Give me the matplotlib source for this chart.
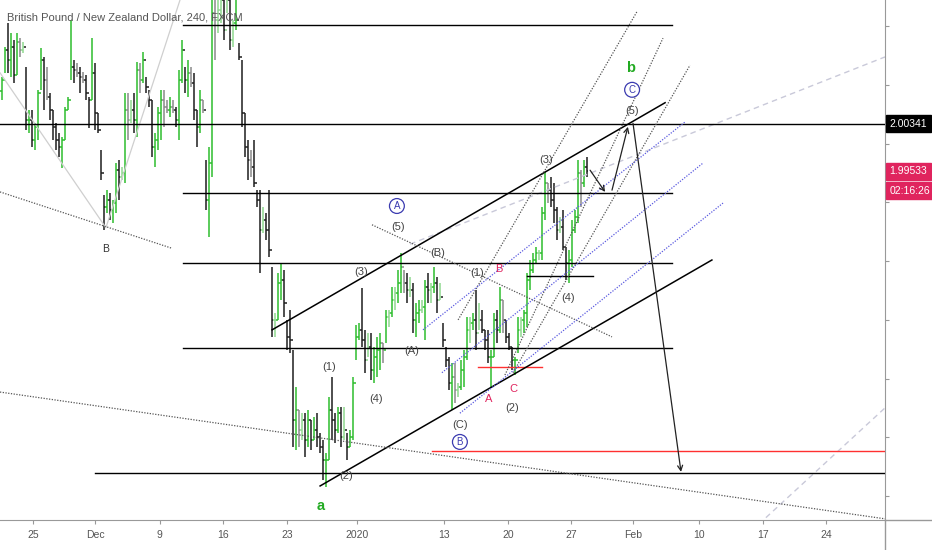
import matplotlib
matplotlib.use('Agg')
import matplotlib.pyplot as plt
from matplotlib.collections import LineCollection
from matplotlib.lines import Line2D

# GBP/NZD 4h bars (high, low, close)
high = [2.0114, 2.0165, 2.0206, 2.0189, 2.0177, 2.0189, 2.0180, 2.0174, 2.0131, 2.0058,
        2.0058, 2.0036, 2.0092, 2.0163, 2.0148, 2.0131, 2.0087, 2.0058, 2.0036, 2.0019,
        2.0012, 2.0063, 2.0080, 2.0211, 2.0143, 2.0138, 2.0131, 2.0123, 2.0117, 2.0080,
        2.0180, 2.0138, 2.0053, 1.9989, 1.9912, 1.9921, 1.9916, 1.9904, 1.9967, 1.9972,
        1.9960, 2.0087, 2.0087, 2.0075, 2.0087, 2.0140, 2.0138, 2.0157, 2.0114, 2.0092,
        2.0075, 2.0019, 2.0063, 2.0092, 2.0092, 2.0075, 2.0080, 2.0075, 2.0063, 2.0126,
        2.0177, 2.0131, 2.0143, 2.0131, 2.0121, 2.0058, 2.0092, 2.0075, 1.9972, 1.9994,
        2.0279, 2.0262, 2.0262, 2.0262, 2.0262, 2.0262, 2.0254, 2.0211, 2.0245, 2.0172,
        2.0143, 2.0053, 2.0006, 1.9989, 2.0006, 1.9921, 1.9921, 1.9892, 1.9882, 1.9921,
        1.9790, 1.9712, 1.9780, 1.9797, 1.9785, 1.9700, 1.9717, 1.9649, 1.9586, 1.9547,
        1.9542, 1.9542, 1.9547, 1.9530, 1.9535, 1.9542, 1.9507, 1.9495, 1.9473, 1.9569,
        1.9603, 1.9542, 1.9552, 1.9552, 1.9552, 1.9507, 1.9512, 1.9603, 1.9691, 1.9695,
        1.9754, 1.9683, 1.9678, 1.9678, 1.9654, 1.9671, 1.9678, 1.9661, 1.9717, 1.9717,
        1.9756, 1.9756, 1.9785, 1.9814, 1.9785, 1.9780, 1.9773, 1.9763, 1.9729, 1.9734,
        1.9734, 1.9768, 1.9780, 1.9763, 1.9790, 1.9773, 1.9763, 1.9695, 1.9654, 1.9637,
        1.9627, 1.9627, 1.9593, 1.9632, 1.9649, 1.9705, 1.9705, 1.9712, 1.9751, 1.9729,
        1.9717, 1.9683, 1.9683, 1.9649, 1.9712, 1.9717, 1.9756, 1.9734, 1.9700, 1.9678,
        1.9654, 1.9637, 1.9705, 1.9705, 1.9717, 1.9780, 1.9802, 1.9814, 1.9824, 1.9819,
        1.9892, 1.9952, 1.9933, 1.9943, 1.9933, 1.9892, 1.9875, 1.9887, 1.9824, 1.9819,
        1.9870, 1.9887, 1.9972, 1.9955, 1.9972, 1.9977]
low = [2.0075, 2.0121, 2.0121, 2.0114, 2.0104, 2.0117, 2.0148, 2.0155, 2.0024, 2.0019,
       1.9994, 1.9989, 2.0006, 2.0092, 2.0058, 2.0075, 2.0041, 2.0006, 1.9989, 1.9977,
       1.9958, 2.0006, 2.0058, 2.0109, 2.0104, 2.0114, 2.0087, 2.0104, 2.0075, 2.0027,
       2.0075, 2.0024, 2.0019, 1.9938, 1.9853, 1.9882, 1.9870, 1.9865, 1.9882, 1.9904,
       1.9938, 1.9933, 2.0006, 2.0036, 2.0019, 2.0012, 2.0087, 2.0104, 2.0087, 2.0063,
       1.9977, 1.9960, 1.9989, 2.0006, 2.0029, 2.0053, 2.0046, 2.0053, 2.0029, 2.0006,
       2.0104, 2.0087, 2.0080, 2.0097, 2.0041, 1.9994, 2.0019, 2.0053, 1.9887, 1.9841,
       1.9943, 2.0143, 2.0189, 2.0206, 2.0177, 2.0223, 2.0160, 2.0165, 2.0194, 2.0143,
       2.0029, 1.9977, 1.9938, 1.9943, 1.9926, 1.9892, 1.9780, 1.9848, 1.9836, 1.9807,
       1.9671, 1.9671, 1.9700, 1.9734, 1.9705, 1.9649, 1.9644, 1.9483, 1.9478, 1.9483,
       1.9495, 1.9466, 1.9483, 1.9478, 1.9495, 1.9483, 1.9473, 1.9427, 1.9415, 1.9461,
       1.9495, 1.9490, 1.9507, 1.9483, 1.9495, 1.9461, 1.9483, 1.9495, 1.9632, 1.9666,
       1.9654, 1.9610, 1.9637, 1.9598, 1.9593, 1.9603, 1.9615, 1.9627, 1.9661, 1.9688,
       1.9705, 1.9717, 1.9729, 1.9746, 1.9746, 1.9729, 1.9739, 1.9678, 1.9671, 1.9695,
       1.9712, 1.9666, 1.9729, 1.9729, 1.9746, 1.9712, 1.9734, 1.9654, 1.9620, 1.9581,
       1.9547, 1.9559, 1.9569, 1.9581, 1.9586, 1.9632, 1.9661, 1.9683, 1.9649, 1.9683,
       1.9678, 1.9649, 1.9627, 1.9584, 1.9637, 1.9661, 1.9678, 1.9678, 1.9661, 1.9649,
       1.9615, 1.9606, 1.9644, 1.9671, 1.9678, 1.9688, 1.9751, 1.9780, 1.9797, 1.9802,
       1.9802, 1.9870, 1.9899, 1.9892, 1.9865, 1.9836, 1.9848, 1.9819, 1.9768, 1.9763,
       1.9790, 1.9848, 1.9865, 1.9892, 1.9926, 1.9943]
close = [2.0109, 2.0160, 2.0143, 2.0165, 2.0117, 2.0174, 2.0160, 2.0165, 2.0041, 2.0041,
         2.0006, 2.0029, 2.0087, 2.0143, 2.0109, 2.0080, 2.0058, 2.0029, 2.0006, 1.9994,
         2.0006, 2.0058, 2.0075, 2.0131, 2.0126, 2.0121, 2.0114, 2.0109, 2.0087, 2.0075,
         2.0121, 2.0053, 2.0024, 1.9950, 1.9892, 1.9904, 1.9887, 1.9899, 1.9955, 1.9943,
         1.9950, 2.0058, 2.0041, 2.0058, 2.0041, 2.0126, 2.0109, 2.0143, 2.0097, 2.0075,
         1.9994, 2.0006, 2.0053, 2.0075, 2.0063, 2.0058, 2.0063, 2.0058, 2.0041, 2.0109,
         2.0160, 2.0109, 2.0121, 2.0104, 2.0058, 2.0029, 2.0075, 2.0058, 1.9904, 1.9967,
         2.0223, 2.0211, 2.0228, 2.0245, 2.0194, 2.0245, 2.0177, 2.0206, 2.0211, 2.0148,
         2.0053, 1.9994, 1.9972, 1.9960, 1.9933, 1.9904, 1.9853, 1.9870, 1.9853, 1.9819,
         1.9700, 1.9700, 1.9763, 1.9768, 1.9729, 1.9671, 1.9666, 1.9530, 1.9547, 1.9512,
         1.9530, 1.9495, 1.9530, 1.9495, 1.9512, 1.9500, 1.9483, 1.9461, 1.9461, 1.9547,
         1.9530, 1.9512, 1.9542, 1.9500, 1.9512, 1.9483, 1.9500, 1.9593, 1.9671, 1.9683,
         1.9666, 1.9632, 1.9654, 1.9615, 1.9637, 1.9649, 1.9661, 1.9649, 1.9705, 1.9712,
         1.9734, 1.9746, 1.9763, 1.9790, 1.9763, 1.9751, 1.9751, 1.9700, 1.9712, 1.9717,
         1.9722, 1.9756, 1.9751, 1.9756, 1.9763, 1.9734, 1.9739, 1.9666, 1.9632, 1.9593,
         1.9603, 1.9581, 1.9586, 1.9615, 1.9637, 1.9683, 1.9695, 1.9700, 1.9678, 1.9700,
         1.9683, 1.9666, 1.9637, 1.9637, 1.9700, 1.9683, 1.9734, 1.9700, 1.9671, 1.9654,
         1.9632, 1.9632, 1.9683, 1.9700, 1.9712, 1.9768, 1.9785, 1.9802, 1.9814, 1.9814,
         1.9882, 1.9933, 1.9921, 1.9904, 1.9887, 1.9853, 1.9858, 1.9824, 1.9797, 1.9802,
         1.9853, 1.9875, 1.9950, 1.9933, 1.9960, 1.99533]
first_open = 2.0090

date_pos = [10.5, 31.2, 52.8, 73.8, 95.2, 118.5, 147.5, 168.8, 189.8, 210.5, 232.5, 253.8, 274.8]
date_lbl = ['25', 'Dec', '9', '16', '23', '2020', '13', '20', '27', 'Feb', '10', '17', '24']
price_ticks = [2.02, 2.01, 2.00, 1.99, 1.98, 1.97, 1.96, 1.95, 1.94]

last_price = 1.99533
marked_level = 2.00341
countdown = '02:16:26'

# horizontal levels drawn on the chart: (price, from bar, to bar)
levels = [(2.0202, 60.5, 223.5), (1.9916, 60.5, 223.5), (1.9797, 60.5, 223.5),
          (1.9652, 60.5, 223.5), (1.9439, 31.2, 294.5), (1.9775, 175.2, 197.2)]
red_levels = [(1.9477, 143.5, 294.5), (1.9620, 158.8, 180.2)]

GREEN, LGREEN, DARK, GRAY = '#2dbd2d', '#8fd98f', '#1e1e1e', '#8a8a8a'
LABEL = '#555555'
BLUE = '#3b3bb0'
RED = '#e0245e'

fam = ['Liberation Sans', 'DejaVu Sans']

fig = plt.figure(figsize=(9.32, 5.5), dpi=100)
ax = fig.add_axes([0, 30 / 550, 885 / 932, 520 / 550])
ax.set_xlim(-0.5, 294.5)
ax.set_ylim(1.9359, 2.0245)

# OHLC bars
opens = [first_open] + close[:-1]
segs, cols = [], []
for i in range(len(high)):
    up = close[i] >= opens[i]
    inside = i > 0 and high[i] <= high[i - 1] and low[i] >= low[i - 1]
    if up:
        c = LGREEN if inside else GREEN
    else:
        c = GRAY if inside else DARK
    segs.append([(i, low[i]), (i, high[i])])
    segs.append([(i - 0.45, opens[i]), (i, opens[i])])
    segs.append([(i, close[i]), (i + 0.45, close[i])])
    cols += [c, c, c]
ax.add_collection(LineCollection(segs, colors=cols, linewidths=1.1, zorder=2))

# horizontal levels
ax.axhline(marked_level, color='black', lw=1.0, zorder=3)
for p, a, b in levels:
    ax.plot([a, b], [p, p], color='black', lw=1.0, zorder=3)
for p, a, b in red_levels:
    ax.plot([a, b], [p, p], color='#ff3030', lw=1.0, zorder=3)

# channel
ax.plot([90.2, 221.2], [1.9683, 2.0070], color='black', lw=1.1, zorder=3)
ax.plot([106.2, 236.8], [1.9417, 1.9802], color='black', lw=1.1, zorder=3)

# dotted trend lines
dot = dict(color='#555555', lw=0.9, ls=(0, (1, 1.2)), zorder=3)
ax.plot([-0.5, 56.8], [1.9918, 1.9822], **dot)
ax.plot([-0.5, 294.5], [1.9577, 1.9361], **dot)
ax.plot([123.5, 203.5], [1.9862, 1.9671], **dot)
ax.plot([152.2, 211.8], [1.9700, 2.0225], **dot)
ax.plot([167.8, 220.5], [1.9606, 2.0180], **dot)
ax.plot([170.5, 229.5], [1.9610, 2.0134], **dot)

# blue parallel lines
bdot = dict(color='#5a5ae0', lw=0.9, ls=(0, (1, 1.2)), zorder=3)
ax.plot([140.5, 227.8], [1.9683, 2.0037], **bdot)
ax.plot([146.8, 233.8], [1.9610, 1.9967], **bdot)
ax.plot([152.8, 240.5], [1.9541, 1.9899], **bdot)

# light dashed and thin lines
ax.plot([136.2, 294.5], [1.9829, 2.0148], color='#c9c9d9', lw=1.0, ls=(0, (4, 3)), zorder=2.5)
ax.plot([254.8, 294.5], [1.9363, 1.9550], color='#c9c9d9', lw=1.0, ls=(0, (4, 3)), zorder=2.5)
ax.plot([-0.5, 34.8, 59.5], [2.0121, 1.9857, 2.0245], color='#cfcfcf', lw=0.9, zorder=2.5)

# arrows
arr = dict(arrowstyle='->', color='#222222', lw=0.9, shrinkA=0, shrinkB=0, mutation_scale=9)
ax.annotate('', xy=(201.2, 1.9918), xytext=(196.2, 1.9955), arrowprops=arr, zorder=4)
ax.annotate('', xy=(208.8, 2.0029), xytext=(203.5, 1.9921), arrowprops=arr, zorder=4)
ax.annotate('', xy=(226.5, 1.9441), xytext=(210.5, 2.0035), arrowprops=arr, zorder=4)

# wave labels
gray_labels = [('(5)', 210.2, 2.0056), ('(3)', 181.5, 1.9972), ('(5)', 132.2, 1.9858),
               ('(3)', 119.8, 1.9782), ('(B)', 145.5, 1.9814), ('(1)', 158.5, 1.9780),
               ('(4)', 188.8, 1.9737), ('(1)', 109.2, 1.9620), ('(4)', 124.8, 1.9565),
               ('(A)', 136.8, 1.9647), ('(C)', 152.8, 1.9521), ('(2)', 170.2, 1.9550),
               ('(2)', 114.8, 1.9434)]
for t, x, y in gray_labels:
    ax.text(x, y, t, color='#444444', fontsize=8, ha='center', va='center', family=fam, zorder=5)
ax.text(34.8, 1.9821, 'B', color='#333333', fontsize=7.5, ha='center', va='center', family=fam, zorder=5)
for t, x, y in [('B', 165.8, 1.9787), ('A', 162.5, 1.9565), ('C', 170.5, 1.9582)]:
    ax.text(x, y, t, color=RED, fontsize=8, ha='center', va='center', family=fam, zorder=5)
for t, x, y in [('b', 209.8, 2.0129), ('a', 106.5, 1.9383)]:
    ax.text(x, y, t, color='#22aa22', fontsize=10.5, fontweight='bold', ha='center', va='center',
            family=fam, zorder=5)
for t, x, y in [('C', 210.2, 2.0092), ('A', 131.8, 1.9894), ('B', 152.8, 1.9492)]:
    ax.text(x, y, t, color=BLUE, fontsize=7, ha='center', va='center', family=fam, zorder=5,
            bbox=dict(boxstyle='circle,pad=0.25', fc='white', ec=BLUE, lw=0.9))

# axes styling
for s in ['top', 'left']:
    ax.spines[s].set_visible(False)
ax.spines['right'].set_color('#999999')
ax.spines['bottom'].set_color('#999999')
ax.yaxis.tick_right()
ax.set_yticks(price_ticks)
ax.set_yticklabels([])
ax.tick_params(axis='y', length=3, color='#999999')
ax.set_xticks(date_pos)
ax.set_xticklabels(date_lbl, family=fam, fontsize=7.5, color=LABEL)
ax.tick_params(axis='x', length=3, color='#999999', pad=4)

fig.add_artist(Line2D([885 / 932, 885 / 932], [0, 30 / 550], color='#999999', lw=1.0))
fig.add_artist(Line2D([885 / 932, 1], [30 / 550, 30 / 550], color='#999999', lw=1.0))

# price tags on the right
tr = ax.get_yaxis_transform()
tag = dict(transform=tr, color='white', fontsize=7.5, family=fam, va='center', ha='left',
           clip_on=False)
ax.text(1.005, marked_level, f'{marked_level:.5f}', **tag,
        bbox=dict(boxstyle='square,pad=0.35', fc='black', ec='black'))
ax.text(1.005, last_price, f'{last_price:.5f}', **tag,
        bbox=dict(boxstyle='square,pad=0.35', fc=RED, ec=RED))
ax.text(1.005, last_price - 0.0033, countdown, **tag,
        bbox=dict(boxstyle='square,pad=0.35', fc=RED, ec=RED))

fig.text(7 / 932, 1 - 17 / 550, 'British Pound / New Zealand Dollar, 240, FXCM', color=LABEL,
         fontsize=8, family=fam, va='center', ha='left')

fig.savefig('out.png', dpi=100, facecolor='white')
